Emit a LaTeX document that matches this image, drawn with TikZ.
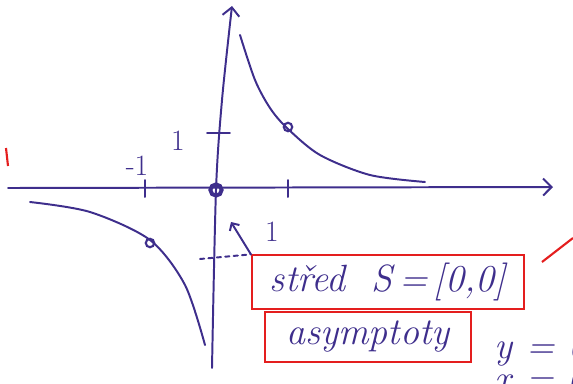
\documentclass[tikz,border=0pt]{standalone}
\usetikzlibrary{positioning,arrows.meta}
\definecolor{ink}{RGB}{62,46,140}
\definecolor{redink}{RGB}{228,30,30}
\tikzset{
  pen/.style={ink, line width=1.4pt, line cap=round},
  redbox/.style={draw=redink, line width=1.5pt, inner sep=0pt},
  hand/.style={ink, font=\fontsize{21}{23}\selectfont},
  big/.style={text=ink, font=\fontsize{27}{30}\selectfont\itshape}
}
\begin{document}
\begin{tikzpicture}[x=0.025cm,y=-0.025cm]
\useasboundingbox (0,0) rectangle (573,383);
\clip (0,0) rectangle (573,383);

% osy
\draw[pen,-{Straight Barb[length=6pt,width=12pt]}] (8,188)--(553,187);
\draw[pen,-{Straight Barb[length=6pt,width=12pt]}] plot[smooth] coordinates {(212,368) (216,190) (222,100) (232,6)};

% ticks
\foreach \x in {145,288}
{
\draw[pen] (\x,180)--(\x,197);
}
\draw[pen] (207,133)--(230,133);

\node[hand] (lx) at (137,166){-1};
\node[hand] (ly) at (178,141){1};
\node[hand] (lo) at (272,232){1};

% pocatek
\node[circle, draw=ink, line width=2.8pt, minimum size=8pt, inner sep=0pt] (O) at (216,190){};

% vetve
\draw[pen] plot[smooth] coordinates {(240,35) (255,80) (270,108) (287,128) (320,155) (370,175) (425,182)};
\draw[pen] plot[smooth] coordinates {(30,202) (90,212) (150,240) (185,285) (205,345)};
\node[circle, draw=ink, line width=1.5pt, minimum size=6pt, inner sep=0pt] (A) at (288,127){};
\node[circle, draw=ink, line width=1.5pt, minimum size=6pt, inner sep=0pt] (B) at (150,243){};

% popisky
\node[redbox, big, minimum width=6.8cm, minimum height=1.33cm] (stred) at (388,282){střed\ \ S\,=\,[0,0]};
\node[redbox, big, minimum width=5.15cm, minimum height=1.25cm] (asym) at (368,337){asymptoty};

\coordinate (tip) at (231,222);
\draw[pen,-{Straight Barb[length=4pt,width=8pt]}] (stred.north west) -- (tip);
\draw[pen, dashed] (200,259) -- (stred.north west);

\node[big, anchor=west] (y0) at (490,350){y = 0};
\node[big, anchor=west] (x0) at (490,379){x = 0};

% cervene cary
\draw[redink, line width=1.5pt] (6,148)--(8,166);
\draw[redink, line width=1.5pt] (542,262)--(573,238);

\end{tikzpicture}
\end{document}
